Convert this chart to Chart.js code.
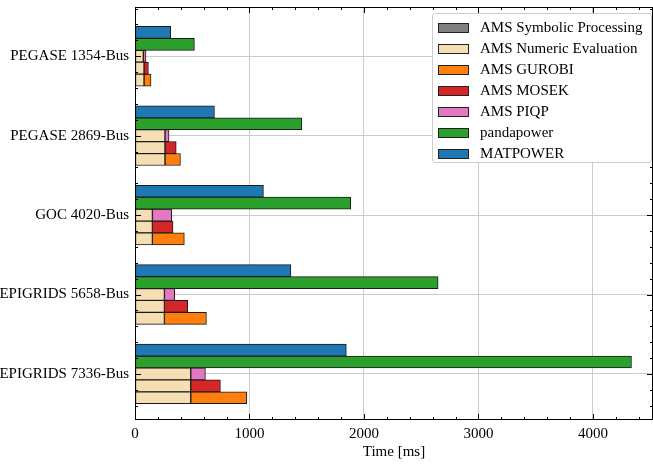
<!DOCTYPE html>
<html>
<head>
<meta charset="utf-8">
<script src="https://cdn.jsdelivr.net/npm/chart.js@4"></script>
<style>
  body { margin: 0; background: #fff; }
  #wrap { position: relative; width: 653px; height: 464px; }
  #legend {
    position: absolute; left: 432px; top: 13px; width: 218px; height: 148px;
    background: #fff; border: 1px solid #cccccc; border-radius: 3px;
    font-family: 'Liberation Serif', serif; font-size: 15px; color: #000;
  }
  .item { position: absolute; left: 5px; height: 21px; line-height: 21px; white-space: nowrap; }
  .sw { position: absolute; left: 0; top: 6px; width: 29px; height: 8px; border: 1px solid #222; }
  .lb { position: absolute; left: 42px; top: 0; }
</style>
</head>
<body>
<div id="wrap">
  <canvas id="chart" width="653" height="464"></canvas>
  <div id="legend"></div>
</div>
<script>
const categories = ['PEGASE 1354-Bus', 'PEGASE 2869-Bus', 'GOC 4020-Bus', 'EPIGRIDS 5658-Bus', 'EPIGRIDS 7336-Bus'];
const matpower = [312, 694, 1122, 1362, 1846];
const pandapower = [519, 1458, 1884, 2648, 4337];
const symbolic = [0, 0, 0, 0, 0];
const numericPiqp = [73, 262, 152, 257, 487];
const numericMosek = [79, 262, 152, 257, 487];
const numericGurobi = [79, 262, 152, 257, 487];
const piqp = [23, 35, 169, 90, 128];
const mosek = [38, 98, 180, 204, 259];
const gurobi = [61, 135, 279, 367, 490];
const xTicks = [0, 1000, 2000, 3000, 4000];

const colors = {
    symbolic: '#808080',
    numeric: '#f5deb3',
    gurobi: '#ff7f0e',
    mosek: '#d62728',
    piqp: '#e377c2',
    pandapower: '#2ca02c',
    matpower: '#1f77b4'
};

// row offsets inside each group
const off = { matpower: -0.3, pandapower: -0.15, piqp: 0, mosek: 0.15, gurobi: 0.3 };
const font = 'Liberation Serif';

const bars = (vals, o) => vals.map((v, i) => ({ x: [0, v], y: i + o }));

let symData = [], numData = [], piqpData = [], mosekData = [], gurobiData = [];
categories.forEach((c, i) => {
    [[numericPiqp, piqp, piqpData, off.piqp],
     [numericMosek, mosek, mosekData, off.mosek],
     [numericGurobi, gurobi, gurobiData, off.gurobi]].forEach(([num, solve, target, o]) => {
        const s = symbolic[i];
        symData.push({ x: [0, s], y: i + o });
        numData.push({ x: [s, s + num[i]], y: i + o });
        target.push({ x: [s + num[i], s + num[i] + solve[i]], y: i + o });
    });
});

const ds = (label, data, color) => ({
    label: label, data: data, backgroundColor: color,
    borderColor: '#1a1a1a', borderWidth: 1, borderSkipped: false,
    barThickness: 12, grouped: false
});

const datasets = [
    ds('MATPOWER', bars(matpower, off.matpower), colors.matpower),
    ds('pandapower', bars(pandapower, off.pandapower), colors.pandapower),
    ds('AMS Symbolic Processing', symData, colors.symbolic),
    ds('AMS Numeric Evaluation', numData, colors.numeric),
    ds('AMS PIQP', piqpData, colors.piqp),
    ds('AMS MOSEK', mosekData, colors.mosek),
    ds('AMS GUROBI', gurobiData, colors.gurobi)
];

// inward ticks on all four sides + frame
const frame = {
    id: 'frame',
    afterDraw(chart) {
        const { ctx, chartArea: a, scales: { x, y } } = chart;
        ctx.save();
        ctx.strokeStyle = '#000';
        ctx.lineWidth = 1;
        ctx.beginPath();
        for (let v = 0; v <= x.max; v += 200) {
            const px = Math.round(x.getPixelForValue(v)) + 0.5;
            const len = v % 1000 === 0 ? 6 : 3;
            ctx.moveTo(px, a.bottom); ctx.lineTo(px, a.bottom - len);
            ctx.moveTo(px, a.top); ctx.lineTo(px, a.top + len);
        }
        for (let k = -3; k <= 23; k++) {
            const v = k / 5;
            if (v < y.min || v > y.max) continue;
            const py = Math.round(y.getPixelForValue(v)) + 0.5;
            const len = k % 5 === 0 ? 6 : 3;
            ctx.moveTo(a.left, py); ctx.lineTo(a.left + len, py);
            ctx.moveTo(a.right, py); ctx.lineTo(a.right - len, py);
        }
        ctx.stroke();
        ctx.strokeRect(a.left + 0.5, a.top + 0.5, a.right - a.left - 1, a.bottom - a.top - 1);
        ctx.restore();
    }
};

new Chart(document.getElementById('chart'), {
    type: 'bar',
    data: { datasets: datasets },
    options: {
        indexAxis: 'y',
        responsive: false,
        devicePixelRatio: 1,
        animation: false,
        layout: { padding: { top: 7, right: 0, left: 0, bottom: 0 } },
        plugins: { legend: { display: false }, tooltip: { enabled: false } },
        scales: {
            x: {
                type: 'linear', min: 0, max: 4525, z: 1, offset: false,
                afterBuildTicks: s => { s.ticks = xTicks.map(v => ({ value: v })); },
                afterFit: s => { s.height = 44; s.paddingLeft = 0; s.paddingRight = 0; },
                grid: { color: '#cccccc', lineWidth: 1, drawTicks: false, offset: false },
                border: { display: false },
                ticks: { padding: 5, color: '#000', font: { family: font, size: 15 }, callback: v => String(v) },
                title: { display: true, text: 'Time [ms]', color: '#000', padding: { top: 0, bottom: 3 }, font: { family: font, size: 15 } }
            },
            y: {
                type: 'linear', min: -0.62, max: 4.58, reverse: true, z: 1, offset: false,
                afterBuildTicks: s => { s.ticks = categories.map((c, i) => ({ value: i })); },
                afterFit: s => { s.width = 135; s.paddingTop = 0; s.paddingBottom = 0; },
                grid: { color: '#cccccc', lineWidth: 1, drawTicks: false, offset: false },
                border: { display: false },
                ticks: {
                    padding: 6, color: '#000', font: { family: font, size: 15 },
                    callback: v => categories[v]
                }
            }
        }
    },
    plugins: [frame]
});

const legendItems = [
    ['AMS Symbolic Processing', colors.symbolic],
    ['AMS Numeric Evaluation', colors.numeric],
    ['AMS GUROBI', colors.gurobi],
    ['AMS MOSEK', colors.mosek],
    ['AMS PIQP', colors.piqp],
    ['pandapower', colors.pandapower],
    ['MATPOWER', colors.matpower]
];
const legend = document.getElementById('legend');
legendItems.forEach(([label, color], k) => {
    legend.innerHTML += `<div class="item" style="top:${3 + k * 21}px">
        <span class="sw" style="background:${color}"></span><span class="lb">${label}</span></div>`;
});
</script>
</body>
</html>
